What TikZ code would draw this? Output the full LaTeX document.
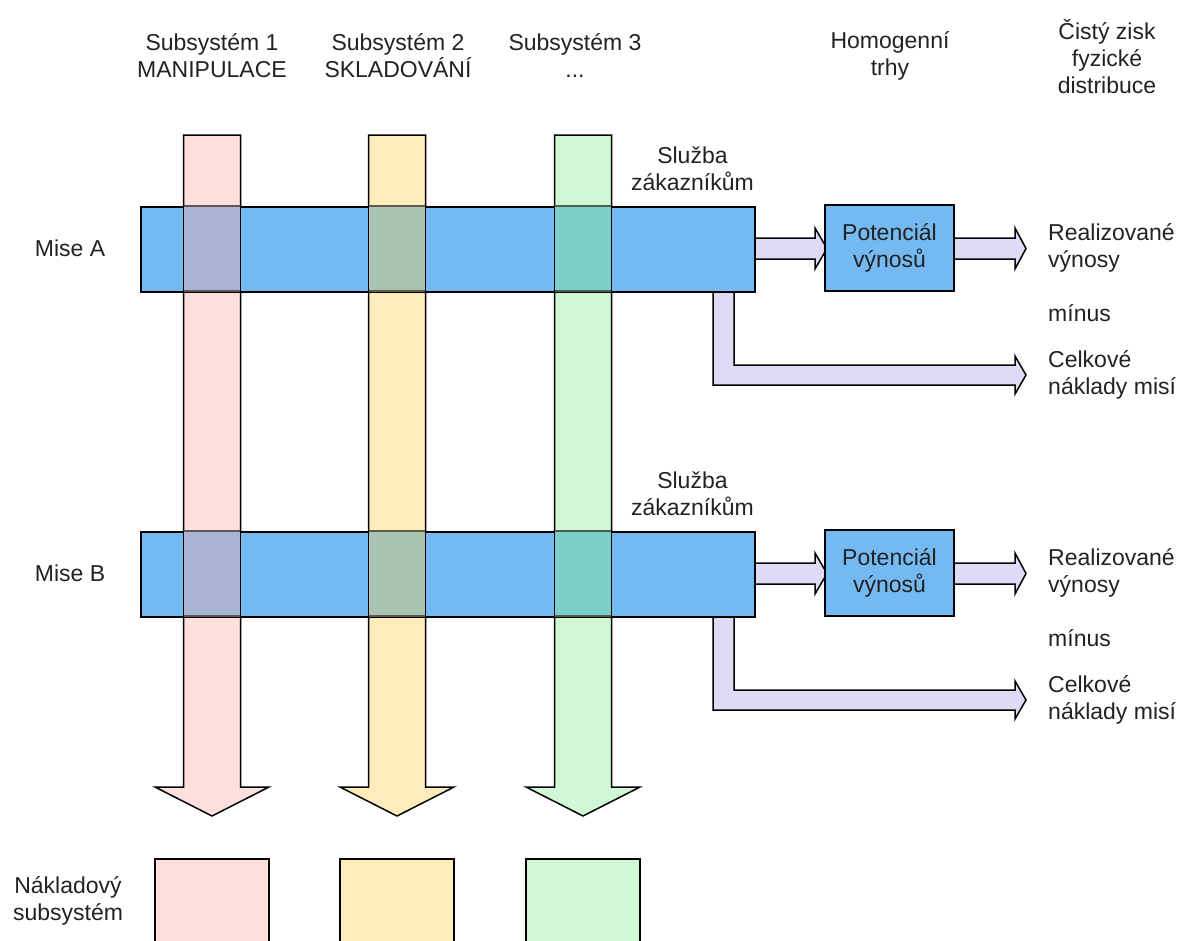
\documentclass[tikz,border=0pt]{standalone}
\usepackage{fontspec}
\setmainfont{Liberation Sans}
\definecolor{txt}{HTML}{222222}
\definecolor{barblue}{HTML}{74B9F2}
\definecolor{flow}{HTML}{DDDBF6}
\definecolor{pinkf}{HTML}{FDE0DC}
\definecolor{yelf}{HTML}{FEECBA}
\definecolor{grnf}{HTML}{D0F8D4}
\definecolor{pinkov}{HTML}{A9B4D4}
\definecolor{yelov}{HTML}{A9C4B2}
\definecolor{grnov}{HTML}{7BCFC8}
\begin{document}
\begin{tikzpicture}[x=1pt,y=-1pt,
  lbl/.style={font=\fontsize{23}{27}\selectfont, text=txt, align=center, inner sep=0pt},
  lbll/.style={lbl, align=left, anchor=west},
  edge/.style={draw=black, line width=1.5pt, line join=miter},
  costbox/.style={edge, minimum width=114pt, minimum height=110pt, anchor=north, inner sep=0pt},
  gainbox/.style={edge, fill=barblue, minimum width=129pt, minimum height=86pt, inner sep=0pt, lbl},
]
\useasboundingbox (0,0) rectangle (1186,940);
\clip (0,0) rectangle (1186,940);

% column headings
\node[lbl] (s1) at (212,56) {Subsystém 1\\MANIPULACE};
\node[lbl] (s2) at (398,56) {Subsystém 2\\SKLADOVÁNÍ};
\node[lbl] (s3) at (575,56) {Subsystém 3\\...};
\node[lbl] (hom) at (890,56) {Homogenní\\trhy};
\node[lbl] (net) at (1107,57) {Čistý zisk\\fyzické\\distribuce};
\node[lbl] (cost) at (68,901) {Nákladový\\subsystém};

% subsystem arrows and cost boxes
\foreach \cx/\col/\nm in {212/pinkf/c1, 397/yelf/c2, 583/grnf/c3}{
  \draw[edge, fill=\col] (\cx-28.5,135) -- (\cx+28.5,135) -- (\cx+28.5,787)
    -- (\cx+57,787) -- (\cx,816) -- (\cx-57,787) -- (\cx-28.5,787) -- cycle;
  \node[costbox, fill=\col] (\nm) at (\cx,858) {};
}

% missions
\foreach \m/\dy in {A/0, B/325}{
  \begin{scope}[shift={(0,\dy)}]
    % flow to realised revenues
    \draw[edge, fill=flow] (954,238) -- (1015,238) -- (1015,228) -- (1026,248.5)
      -- (1015,269) -- (1015,259) -- (954,259) -- cycle;
    % flow to total mission costs
    \draw[edge, fill=flow] (713,291) -- (713,385) -- (1015,385) -- (1015,394)
      -- (1026,375) -- (1015,356) -- (1015,365) -- (734,365) -- (734,291) -- cycle;
    % flow to revenue potential
    \draw[edge, fill=flow] (754,238) -- (815,238) -- (815,228) -- (827,248.5)
      -- (815,269) -- (815,259) -- (754,259) -- cycle;
    % mission bar
    \node[edge, fill=barblue, minimum width=614pt, minimum height=85pt, anchor=north west, inner sep=0pt]
      (bar\m) at (140,206) {};
    % crossings with the subsystem arrows
    \foreach \cx/\col/\ov in {212/pinkf/pinkov, 397/yelf/yelov, 583/grnf/grnov}{
      \fill[\ov] (\cx-28.5,206) rectangle (\cx+28.5,291);
      \draw[line width=1.5pt, draw=black!62!\col] (\cx-28.5,206) -- (\cx+28.5,206)
        (\cx-28.5,291) -- (\cx+28.5,291);
      \draw[edge] (\cx-28.5,205) -- (\cx-28.5,292) (\cx+28.5,205) -- (\cx+28.5,292);
    }
    \node[gainbox] (pot\m) at (889.5,248) {Potenciál\\výnosů};
    \node[lbl] (mise\m) at (70,248) {Mise \m};
    \node[lbl, anchor=east] (serv\m) at (754,169) {Služba\\zákazníkům};
    \node[lbll] (rev\m) at (1048,248) {Realizované\\výnosy};
    \node[lbll] (minus\m) at (1048,313) {mínus};
    \node[lbll] (tot\m) at (1048,375) {Celkové\\náklady misí};
  \end{scope}
}
\end{tikzpicture}
\end{document}
